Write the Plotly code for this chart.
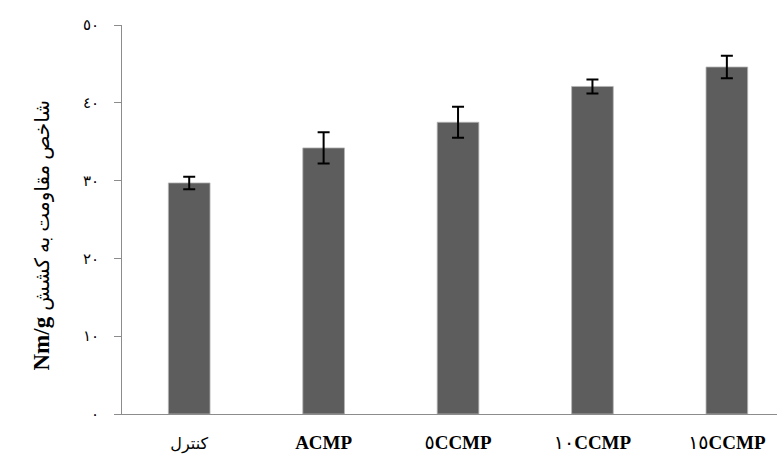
import plotly.graph_objects as go

categories = ["<span style='font-size:16px'>کنترل</span>", "<b>ACMP</b>", "٥<b>CCMP</b>", "١٠<b>CCMP</b>", "١٥<b>CCMP</b>"]
values = [29.7, 34.2, 37.5, 42.1, 44.6]
errors = [0.8, 2.0, 2.0, 0.9, 1.45]
ytick_vals = [0, 10, 20, 30, 40, 50]
ytick_text = ["٠", "١٠", "٢٠", "٣٠", "٤٠", "٥٠"]

x_idx = list(range(len(categories)))

fig = go.Figure()
fig.add_trace(go.Bar(
    x=x_idx, y=values,
    marker=dict(color="#5d5d5d", line=dict(color="#b5b5b5", width=0.8)),
    error_y=dict(type="data", array=errors, visible=True, color="black",
                 thickness=2, width=6),
    width=0.31,
))

fig.update_layout(
    width=777, height=466,
    margin=dict(l=122, r=0, t=25, b=52),
    paper_bgcolor="white", plot_bgcolor="white",
    showlegend=False,
    font=dict(family="Liberation Serif, DejaVu Sans", color="black"),
    xaxis=dict(
        range=[-0.5, 4.373], tickmode="array", tickvals=x_idx, ticktext=categories,
        showline=True, linecolor="#8c8c8c", linewidth=1, ticks="",
        showgrid=False, zeroline=False, tickfont=dict(size=19, family="Liberation Serif, DejaVu Sans"),
        ticklabelstandoff=11,
    ),
    yaxis=dict(
        range=[0, 50], tickmode="array", tickvals=ytick_vals, ticktext=ytick_text,
        showline=True, linecolor="#8c8c8c", linewidth=1, ticks="outside",
        ticklen=7, tickcolor="#8c8c8c", showgrid=False, zeroline=False,
        tickfont=dict(size=15, family="DejaVu Sans"), ticklabelstandoff=12,
    ),
    annotations=[dict(
        text="<b><span style='font-size:23px'>Nm/g</span></b>\u00a0\u00a0<span style='font-size:20px'>شاخص مقاومت به کشش</span>",
        xref="paper", yref="paper", x=-0.123, y=0.46, xanchor="center", yanchor="middle",
        textangle=-90, showarrow=False,
        font=dict(family="Liberation Serif, DejaVu Sans", color="black"),
    )],
)

fig.write_html("out.html", config={"displayModeBar": False},
               post_script="document.body.style.margin='0';document.body.style.overflow='hidden';")
